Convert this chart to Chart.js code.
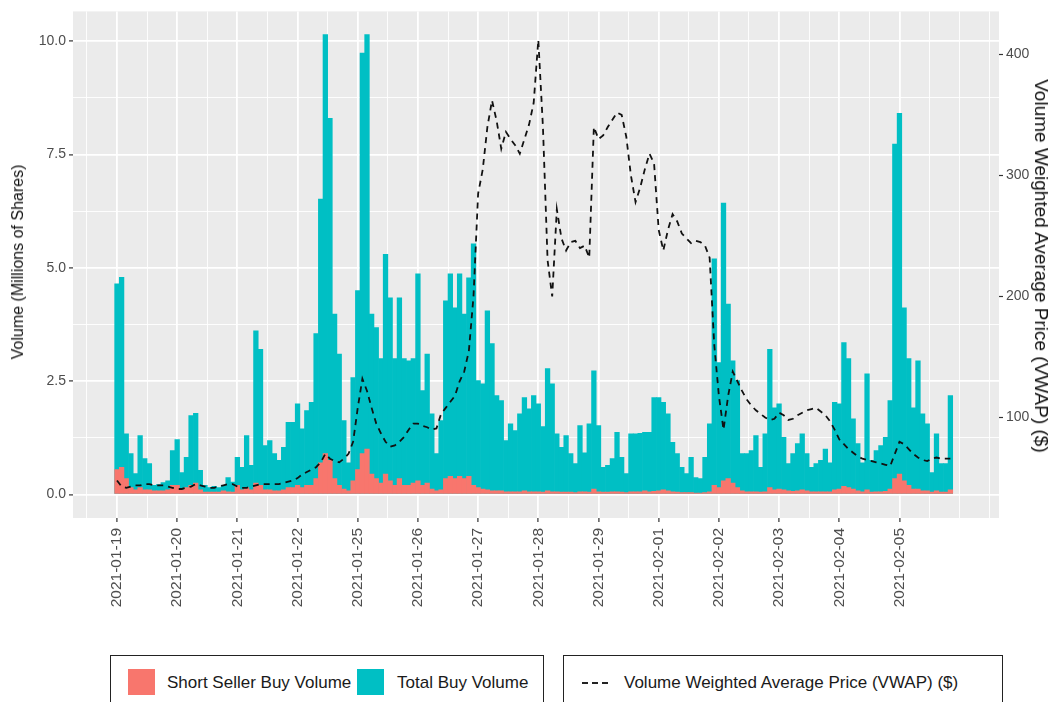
<!DOCTYPE html>
<html><head><meta charset="utf-8">
<script src="https://cdn.jsdelivr.net/npm/chart.js@4.4.1/dist/chart.umd.min.js"></script>
<style>
html,body{margin:0;padding:0;background:#fff;}
#wrap{position:relative;width:1055px;height:702px;overflow:hidden;font-family:"Liberation Sans",Arial,sans-serif;}
#c{position:absolute;left:0;top:0;}
.box{position:absolute;border:1.5px solid #222;box-sizing:border-box;background:#fff;}
.key{position:absolute;}
.lt{position:absolute;font-size:17px;color:#1a1a1a;white-space:nowrap;line-height:18px;}
.at{position:absolute;color:#111;white-space:nowrap;line-height:22px;transform-origin:center center;}
</style></head><body>
<div id="wrap">
<canvas id="c" width="1055" height="702"></canvas>
<div class="at" id="tl" style="left:18px;top:262px;font-size:16px;transform:translate(-50%,-50%) rotate(-90deg);">Volume (Millions of Shares)</div>
<div class="at" id="tr" style="left:1041px;top:266px;font-size:19px;transform:translate(-50%,-50%) rotate(90deg);">Volume Weighted Average Price (VWAP) ($)</div>
<div class="box" style="left:110px;top:655px;width:434px;height:70px;"></div>
<div class="key" style="left:128px;top:669px;width:27px;height:26px;background:#F8766D;"></div>
<div class="lt" style="left:167px;top:674px;">Short Seller Buy Volume</div>
<div class="key" style="left:357px;top:669px;width:27px;height:26px;background:#00BFC4;"></div>
<div class="lt" style="left:397px;top:674px;">Total Buy Volume</div>
<div class="box" style="left:563px;top:655px;width:440px;height:70px;"></div>
<div class="key" style="left:582px;top:682px;width:26px;height:0;border-top:2px dashed #222;"></div>
<div class="lt" style="left:624px;top:674px;">Volume Weighted Average Price (VWAP) ($)</div>
</div>
<script>
// ---- data (one bar per 30-minute interval, 13 per trading day) ----
const dayLabels = ['2021-01-19','2021-01-20','2021-01-21','2021-01-22','2021-01-25','2021-01-26','2021-01-27','2021-01-28','2021-01-29','2021-02-01','2021-02-02','2021-02-03','2021-02-04','2021-02-05'];
const barsPerDay = 13;
const totalBuy = [
 4.65,4.79,1.34,0.90,0.46,1.30,0.79,0.68,0.20,0.22,0.26,0.30,0.97,
 1.21,0.48,0.82,1.74,1.79,0.53,0.20,0.15,0.18,0.15,0.20,0.37,0.27,
 0.82,0.60,1.30,0.64,3.61,3.20,1.08,1.19,0.90,0.75,1.04,1.59,1.59,
 2.00,1.45,1.85,2.03,3.55,6.52,10.15,8.30,3.98,3.10,1.63,0.70,2.58,
 4.50,9.74,10.15,3.98,3.68,3.00,5.30,4.34,3.00,4.34,3.00,2.95,3.00,
 4.87,2.29,3.10,1.78,0.90,1.63,4.27,4.87,4.12,4.87,3.98,4.78,5.53,
 2.51,2.44,4.05,3.33,2.18,2.07,1.19,1.56,1.41,1.78,2.14,1.89,2.18,
 2.00,1.50,2.78,2.44,1.34,1.04,1.30,0.90,0.68,1.52,0.92,1.56,2.73,
 1.52,0.60,0.64,0.79,1.37,0.82,0.46,1.34,1.34,1.35,1.37,1.37,2.14,
 2.14,2.03,1.78,1.15,0.90,0.60,0.46,0.82,0.37,0.35,0.82,1.56,5.20,
 2.91,6.43,4.20,2.95,2.51,0.90,0.90,0.97,1.30,0.60,1.34,3.20,1.91,
 2.00,1.26,0.68,0.90,1.12,1.34,0.90,0.60,0.68,0.75,1.00,0.70,2.03,
 2.00,3.35,3.00,1.67,1.12,0.70,2.66,0.75,0.97,1.08,1.26,2.07,7.73,
 8.41,4.12,3.00,1.91,2.95,1.78,1.56,0.48,1.34,0.68,0.68,2.18
];
const shortBuy = [
 0.55,0.60,0.35,0.15,0.10,0.15,0.10,0.10,0.08,0.08,0.08,0.10,0.20,
 0.20,0.10,0.15,0.20,0.25,0.10,0.05,0.05,0.05,0.05,0.08,0.06,0.05,
 0.20,0.10,0.15,0.10,0.25,0.20,0.10,0.10,0.08,0.08,0.10,0.15,0.15,
 0.20,0.15,0.20,0.20,0.35,0.70,0.90,0.75,0.35,0.20,0.12,0.08,0.30,
 0.55,0.90,1.00,0.45,0.35,0.25,0.45,0.30,0.20,0.35,0.20,0.20,0.25,
 0.30,0.20,0.25,0.12,0.08,0.10,0.35,0.40,0.35,0.40,0.35,0.40,0.20,
 0.15,0.12,0.10,0.08,0.08,0.08,0.06,0.06,0.06,0.06,0.08,0.06,0.06,
 0.06,0.05,0.08,0.06,0.06,0.05,0.05,0.05,0.04,0.06,0.06,0.05,0.12,
 0.06,0.05,0.05,0.06,0.06,0.05,0.04,0.06,0.06,0.06,0.08,0.06,0.07,
 0.08,0.10,0.08,0.06,0.05,0.04,0.04,0.04,0.03,0.03,0.04,0.06,0.20,
 0.15,0.30,0.35,0.25,0.15,0.08,0.06,0.06,0.06,0.05,0.06,0.15,0.10,
 0.12,0.10,0.08,0.07,0.08,0.10,0.08,0.06,0.06,0.06,0.06,0.06,0.10,
 0.12,0.18,0.15,0.12,0.08,0.06,0.10,0.05,0.06,0.06,0.07,0.12,0.35,
 0.45,0.30,0.20,0.12,0.12,0.08,0.08,0.05,0.08,0.05,0.05,0.10
];
const vwap = [
 48,43,42,43,44,44,45,45,44,44,44,43,42,
 41,41,42,43,45,44,43,42,42,43,44,45,45,
 43,42,42,43,44,45,45,45,45,45,46,47,48,
 50,53,55,57,59,63,70,66,64,63,66,70,80,
 108,132,122,108,95,87,80,76,77,80,84,90,95,
 95,93,92,90,91,103,108,113,118,130,138,155,200,
 285,305,340,362,345,322,336,330,325,318,330,342,360,
 412,340,230,200,272,248,238,245,246,240,242,232,340,
 330,333,340,346,352,350,332,300,278,290,305,318,310,
 255,238,255,268,262,252,248,244,246,245,242,232,160,
 118,90,118,138,130,122,115,110,106,103,100,98,99,
 104,102,98,99,102,104,106,107,108,105,102,97,90,
 82,78,74,71,68,66,65,64,63,62,61,60,70,
 80,78,74,70,67,65,64,66,67,66,66,66
];
const volTicks = [0, 2.5, 5, 7.5, 10];
const priceTicks = [100, 200, 300, 400];

// ---- layout constants ----
const volMin = -0.52, volMax = 10.66;
const priceAt0 = 36.5, pricePerVol = 37.43;
const nBars = totalBuy.length;
const xMin = -9.5, xMax = nBars - 1 + 9.5 + 1;

const majorX = dayLabels.map((d, k) => k * barsPerDay);
const minorX = [];
for (let k = -1; k <= dayLabels.length; k++) minorX.push(k * barsPerDay + barsPerDay / 2);
minorX.push(dayLabels.length * barsPerDay);
const minorVol = [1.25, 3.75, 6.25, 8.75];

const panelBg = {
  id: 'panelBg',
  beforeDraw(chart) {
    const {ctx, chartArea: a} = chart;
    ctx.save();
    ctx.fillStyle = '#EBEBEB';
    ctx.fillRect(a.left, a.top, a.right - a.left, a.bottom - a.top);
    ctx.restore();
  }
};

const xFont = {family: '"Liberation Sans", Arial, sans-serif', size: 15.5};
const yFont = {family: '"Liberation Sans", Arial, sans-serif', size: 14};

new Chart(document.getElementById('c'), {
  type: 'bar',
  data: {
    datasets: [
      {
        type: 'line', label: 'Volume Weighted Average Price (VWAP) ($)',
        data: vwap.map((v, i) => ({x: i, y: v})), yAxisID: 'y2',
        borderColor: '#111', borderWidth: 1.8, borderDash: [6, 5],
        pointRadius: 0, tension: 0, fill: false, order: 0
      },
      {
        label: 'Short Seller Buy Volume', data: shortBuy.map((v, i) => ({x: i, y: v})),
        backgroundColor: '#F8766D', yAxisID: 'y', grouped: false,
        barPercentage: 1, categoryPercentage: 1, borderWidth: 0, order: 1
      },
      {
        label: 'Total Buy Volume', data: totalBuy.map((v, i) => ({x: i, y: v})),
        backgroundColor: '#00BFC4', yAxisID: 'y', grouped: false,
        barPercentage: 1, categoryPercentage: 1, borderWidth: 0, order: 2
      }
    ]
  },
  options: {
    responsive: false, animation: false, devicePixelRatio: 1,
    layout: {padding: {top: 11, left: 0, right: 0, bottom: 0}},
    plugins: {legend: {display: false}, tooltip: {enabled: false}},
    scales: {
      x: {
        type: 'linear', min: xMin, max: xMax, offset: false,
        afterBuildTicks: s => { s.ticks = majorX.concat(minorX).filter(v => v >= xMin && v <= xMax).sort((a, b) => a - b).map(v => ({value: v})); },
        afterFit: s => { s.height = 184; },
        border: {display: false},
        grid: {
          color: '#FFFFFF', offset: false,
          lineWidth: c => (c.tick && majorX.includes(c.tick.value)) ? 1.8 : 0.9,
          tickColor: c => (c.tick && majorX.includes(c.tick.value)) ? '#333333' : 'rgba(0,0,0,0)',
          tickLength: 4, tickWidth: 1.2
        },
        ticks: {
          autoSkip: false, minRotation: 90, maxRotation: 90, padding: 6,
          color: '#4D4D4D', font: xFont,
          callback: v => { const k = majorX.indexOf(v); return k >= 0 ? dayLabels[k] : ''; }
        }
      },
      y: {
        type: 'linear', position: 'left', min: volMin, max: volMax,
        afterBuildTicks: s => { s.ticks = volTicks.concat(minorVol).sort((a, b) => a - b).map(v => ({value: v})); },
        afterFit: s => { s.width = 73; },
        border: {display: false},
        grid: {
          color: '#FFFFFF',
          lineWidth: c => (c.tick && volTicks.includes(c.tick.value)) ? 1.8 : 0.9,
          tickColor: c => (c.tick && volTicks.includes(c.tick.value)) ? '#333333' : 'rgba(0,0,0,0)',
          tickLength: 4, tickWidth: 1.2
        },
        ticks: {
          color: '#4D4D4D', font: yFont, padding: 3,
          callback: v => volTicks.includes(v) ? v.toFixed(1) : ''
        }
      },
      y2: {
        type: 'linear', position: 'right',
        min: priceAt0 + pricePerVol * volMin, max: priceAt0 + pricePerVol * volMax,
        afterBuildTicks: s => { s.ticks = priceTicks.map(v => ({value: v})); },
        afterFit: s => { s.width = 56; },
        border: {display: false},
        grid: {drawOnChartArea: false, color: '#333333', tickColor: '#333333', tickLength: 4, tickWidth: 1.2},
        ticks: {color: '#4D4D4D', font: yFont, padding: 3, callback: v => String(v)}
      }
    }
  },
  plugins: [panelBg]
});
</script>
</body></html>
